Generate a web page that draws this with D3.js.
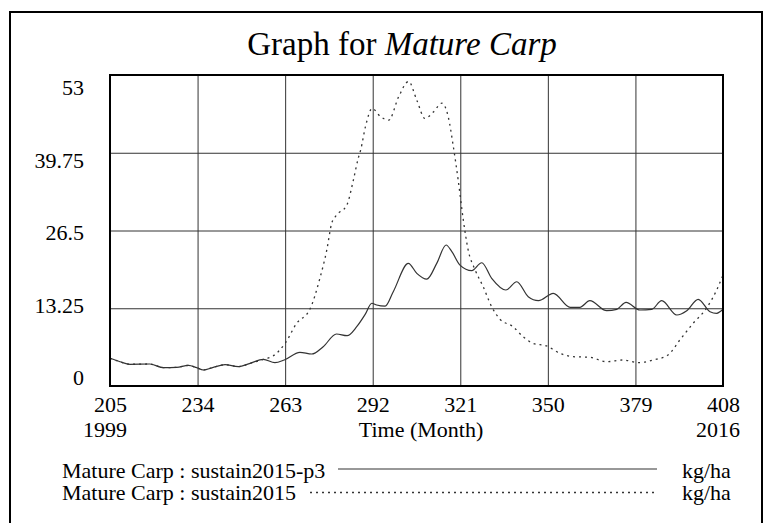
<!DOCTYPE html>
<html><head><meta charset="utf-8">
<script src="https://cdn.jsdelivr.net/npm/d3@7"></script>
<style>
html,body{margin:0;padding:0;background:#fff;}
svg{display:block;}
text{font-family:"Liberation Serif","Times New Roman",Times,serif;fill:#000;}
</style></head>
<body>
<script>
// ---- data ----
const xTicks = [205, 234, 263, 292, 321, 350, 379, 408];
const yTicks = [0, 13.25, 26.5, 39.75, 53];
const yTickLabels = ["0", "13.25", "26.5", "39.75", "53"];
const yearLabels = ["1999", "2016"];
const xAxisTitle = "Time (Month)";
const titlePlain = "Graph for ";
const titleItalic = "Mature Carp";
const seriesNames = ["Mature Carp : sustain2015-p3", "Mature Carp : sustain2015"];
const units = ["kg/ha", "kg/ha"];

const p3Months = [205,208.3,211.6,218.2,222.7,227.1,231,233.7,235.9,239.2,243.1,247.5,251.4,255.8,259.6,262.7,267.9,271.8,275.6,280,283.5,286.7,289.5,291.7,293.3,296.1,298.8,303.8,306.6,309.9,313.2,316.3,318.2,320.9,324.8,328.1,331.4,336.1,339.7,343.5,346.9,351.8,357.4,360.6,363.9,369.5,372.8,375.9,380.5,384.4,387.7,392.7,396,399.8,403.7,405.9,408];
const p3Values = [4.72,4.14,3.7,3.75,3.12,3.18,3.52,3.12,2.73,3.18,3.63,3.29,3.86,4.55,3.97,4.43,5.74,5.45,6.7,8.86,8.57,10.1,12.2,14.1,13.8,13.6,16.07,20.9,19.2,18.2,20.9,24.03,22.9,20.6,19.65,21.0,18.35,16.36,17.77,15.22,14.54,15.8,13.41,13.41,14.54,12.83,13.07,14.26,12.95,13.07,14.54,12.1,12.83,14.77,12.66,12.39,13.07];

const s15Months = [205,208.3,211.6,218.2,222.7,227.1,231,233.7,235.9,239.2,243.1,247.5,251.4,255.8,259,260.7,263,266.8,271.2,274.5,276.8,278.4,280,283.4,285.6,287.2,288,289.6,291.8,294.6,297.3,300.6,303.9,306.6,309.3,312.1,314.9,317,318.7,320.3,322,323.6,325.9,328.6,331.4,334.1,338.5,341.8,345.1,349.6,354,358.4,363.9,369.5,375,379.9,384.9,389.8,393.7,398.1,402.5,405.9,408];
const s15Values = [4.72,4.14,3.7,3.75,3.12,3.18,3.52,3.12,2.73,3.18,3.63,3.29,3.86,4.55,5.11,5.85,7.27,10.68,13.07,18.35,23.2,27.7,29.1,30.8,35.1,38.8,40.2,44.2,47.3,45.9,45.3,49.3,51.9,48.7,45.6,46.7,48.2,45.9,40.8,35.1,28.3,23.2,19.8,16.9,13.5,11.4,10.1,8.4,7.27,6.82,5.57,5.0,4.89,4.14,4.43,3.97,4.43,5.28,7.84,10.68,13.24,16.36,18.9];

// ---- layout ----
const W = 767, H = 523;
const L = 110, R = 723, T = 75, B = 386;

const svg = d3.select("body").append("svg").attr("width", W).attr("height", H);

// outer frame
svg.append("path").attr("d", `M10,${H+5} L10,12 L762,12 L762,${H+5}`)
  .attr("fill","none").attr("stroke","#000").attr("stroke-width",2);

const x = d3.scaleLinear().domain([205, 408]).range([L, R]);
const y = d3.scaleLinear().domain([0, 53]).range([B, T]);
// label baseline placement (labels sit inside the gridline spacing)
const yLab = d3.scaleLinear().domain([0, 53]).range([385, 95]);

// title
const title = svg.append("text").attr("x", 402).attr("y", 55).attr("text-anchor","middle")
  .style("font-size","33px");
title.append("tspan").text(titlePlain);
title.append("tspan").style("font-style","italic").text(titleItalic);

// grid via axes
const gx = svg.append("g").attr("transform", `translate(0,${B})`)
  .call(d3.axisBottom(x).tickValues(xTicks).tickSize(-(B - T)).tickFormat(""));
gx.select(".domain").remove();
gx.selectAll("line").attr("stroke","#333").attr("stroke-width",1);

const gy = svg.append("g").attr("transform", `translate(${L},0)`)
  .call(d3.axisLeft(y).tickValues(yTicks).tickSize(-(R - L)).tickFormat(""));
gy.select(".domain").remove();
gy.selectAll("line").attr("stroke","#333").attr("stroke-width",1);

// x tick labels
const gxl = svg.append("g").attr("transform", `translate(0,${B})`)
  .call(d3.axisBottom(x).tickValues(xTicks).tickSize(0).tickPadding(0).tickFormat(d3.format("d")));
gxl.select(".domain").remove();
gxl.selectAll("text").attr("y", 26).attr("dy", 0)
  .style("font-size","22px").style("font-family",'"Liberation Serif","Times New Roman",serif').attr("fill","#000");

// y tick labels
svg.append("g").selectAll("text").data(yTicks).join("text")
  .attr("x", 84).attr("y", d => yLab(d)).attr("text-anchor","end")
  .style("font-size","22px").text((d,i) => yTickLabels[i]);

// year labels & axis title
svg.append("text").attr("x", x(205) - 5).attr("y", 437).attr("text-anchor","middle")
  .style("font-size","22px").text(yearLabels[0]);
svg.append("text").attr("x", x(408) - 5).attr("y", 437).attr("text-anchor","middle")
  .style("font-size","22px").text(yearLabels[1]);
svg.append("text").attr("x", 421).attr("y", 437).attr("text-anchor","middle")
  .style("font-size","22px").text(xAxisTitle);

// lines
const line = d3.line().x(d => x(d[0])).y(d => y(d[1])).curve(d3.curveMonotoneX);
const p3 = p3Months.map((m,i) => [m, p3Values[i]]);
const s15 = s15Months.map((m,i) => [m, s15Values[i]]);

svg.append("path").datum(s15).attr("d", line).attr("fill","none")
  .attr("stroke","#333").attr("stroke-width",1.3).attr("stroke-dasharray","2,4");
svg.append("path").datum(p3).attr("d", line).attr("fill","none")
  .attr("stroke","#333").attr("stroke-width",1.2);

// plot border
svg.append("rect").attr("x", L).attr("y", T).attr("width", R - L).attr("height", B - T)
  .attr("fill","none").attr("stroke","#000").attr("stroke-width",2);

// legend
const legY = [478, 500];
const legLineY = [469, 492.5];
const legStart = [338, 310];
svg.append("g").selectAll("text").data(seriesNames).join("text")
  .attr("x", 62).attr("y", (d,i) => legY[i]).style("font-size","22px").text(d => d);
svg.append("g").selectAll("text").data(units).join("text")
  .attr("x", 682).attr("y", (d,i) => legY[i]).style("font-size","22px").text(d => d);
svg.append("g").selectAll("line").data(seriesNames).join("line")
  .attr("x1", (d,i) => legStart[i]).attr("x2", 657)
  .attr("y1", (d,i) => legLineY[i]).attr("y2", (d,i) => legLineY[i])
  .attr("stroke","#333").attr("stroke-width",(d,i)=> i ? 1.3 : 1.2)
  .attr("stroke-dasharray",(d,i)=> i ? "2,4" : null);
</script>
</body></html>
